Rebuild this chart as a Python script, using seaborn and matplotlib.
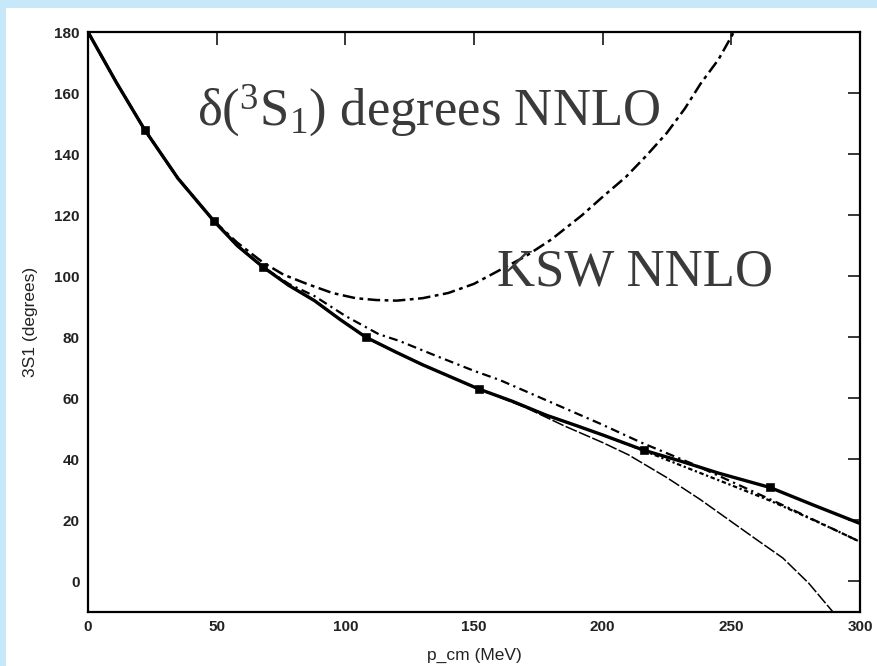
import matplotlib
matplotlib.use("Agg")
import matplotlib.pyplot as plt
import seaborn as sns
import pandas as pd
from matplotlib.patches import Rectangle

# ---- data ----
pwa_x = [0, 11, 22, 35, 49, 58, 68, 78, 88, 98, 108, 120, 130, 141, 152, 165, 178, 190, 200, 216, 230, 245, 265, 282, 300]
pwa_y = [180, 163.5, 148, 132, 118, 110, 103, 97, 92, 85.8, 80, 75, 71, 67, 63, 59, 54.5, 51, 48, 43, 39.5, 35.5, 30.8, 25, 19]

data_x = [22, 49, 68, 108, 152, 216, 265]
data_y = [148, 118, 103, 80, 63, 43, 31]

ksw_x = [0, 11, 22, 35, 49, 58, 68, 76, 85, 95, 104, 112, 120, 130, 140, 150, 160, 170, 180, 192, 200, 209, 217, 225, 232, 238, 245, 251]
ksw_y = [180, 163.5, 148, 132, 118, 111, 104.5, 100.5, 97.5, 94.5, 92.8, 92.2, 92, 92.8, 94.5, 97.5, 102, 106.5, 112, 120, 126, 132.5, 139.5, 147, 155, 163, 171, 180]

dd_x = [0, 11, 22, 35, 49, 58, 68, 78, 88, 100, 113, 121, 135, 150, 160, 175, 199, 215, 235, 255, 270, 285, 300]
dd_y = [180, 163.5, 148, 132, 118, 110, 103, 97.5, 93.5, 87, 81, 78.8, 74, 69, 66, 60.5, 51.7, 45.5, 38.5, 30.8, 25, 19, 13]

dot_x = [0, 11, 22, 35, 49, 58, 68, 78, 88, 98, 108, 120, 130, 141, 152, 165, 178, 190, 200, 217, 235, 251, 265, 277, 290, 300]
dot_y = [180, 163.5, 148, 132, 118, 110, 103, 97, 92, 85.8, 80, 75, 71, 67, 63, 59, 54.5, 51, 48, 42.5, 36.5, 31.2, 26.5, 22, 17, 13]

thin_x = [0, 11, 22, 35, 49, 58, 68, 78, 88, 98, 108, 120, 130, 141, 152, 170, 185, 200, 210, 225, 238, 250, 260, 270, 280, 289.5]
thin_y = [180, 163.5, 148, 132, 118, 110, 103, 97, 92, 85.8, 80, 75, 71, 67, 63, 57, 51, 45.5, 41.5, 34, 26.8, 19.6, 13.6, 7.7, -0.5, -10]

x_ticks = [0, 50, 100, 150, 200, 250, 300]
y_ticks = [0, 20, 40, 60, 80, 100, 120, 140, 160, 180]

title_text = "δ($^{3}$S$_{1}$) degrees NNLO"
ksw_text = "KSW NNLO"
x_label = "p_cm (MeV)"
y_label = "3S1 (degrees)"

# ---- style ----
sns.set_style("white")
plt.rcParams["font.family"] = ["Liberation Sans", "DejaVu Sans"]
plt.rcParams["mathtext.fontset"] = "custom"
plt.rcParams["mathtext.rm"] = "Liberation Serif"
plt.rcParams["mathtext.it"] = "Liberation Serif:italic"
plt.rcParams["mathtext.bf"] = "Liberation Serif:bold"

W, H = 877, 666
fig = plt.figure(figsize=(W / 100, H / 100), dpi=100, facecolor="#c6e8f8")
fig.patches.append(Rectangle((6 / W, 0), 1 - 6 / W, 1 - 8 / H, transform=fig.transFigure,
                             facecolor="white", edgecolor="none", zorder=-10))
ax = fig.add_axes([88 / W, 1 - 612 / H, (860 - 88) / W, (612 - 32) / H])
ax.set_zorder(1)
ax.set_facecolor("white")

def draw(xs, ys, **kw):
    df = pd.DataFrame({"x": xs, "y": ys})
    sns.lineplot(data=df, x="x", y="y", ax=ax, estimator=None, sort=False,
                 color="black", **kw)

draw(thin_x, thin_y, linewidth=1.1, linestyle=(0, (8, 1.5)))
draw(dot_x, dot_y, linewidth=1.6, linestyle=(0, (2, 1.2, 1, 1.2)))
draw(dd_x, dd_y, linewidth=1.6, linestyle=(0, (4, 2, 1, 2)))
draw(ksw_x, ksw_y, linewidth=1.8, linestyle=(0, (5, 1.8, 1.5, 1.8)))
draw(pwa_x, pwa_y, linewidth=2.4, linestyle="-")
sns.scatterplot(x=data_x, y=data_y, ax=ax, marker="s", s=32, color="black",
                edgecolor="black", zorder=5)

ax.set_xlim(0, 300)
ax.set_ylim(-10, 180)
ax.set_xticks(x_ticks)
ax.set_yticks(y_ticks)
ax.tick_params(direction="in", length=9, width=1.3, top=True, right=True,
               labelsize=11, labelcolor="#222222", pad=6)
for lab in ax.get_xticklabels() + ax.get_yticklabels():
    lab.set_fontweight("bold")
for s in ax.spines.values():
    s.set_visible(True)
    s.set_color("black")
    s.set_linewidth(1.6)

ax.set_xlabel(x_label, fontsize=12.5, color="#222222", labelpad=10)
ax.set_ylabel(y_label, fontsize=12.5, color="#222222", labelpad=12)

ax.text(42.4, 149.5, title_text, fontsize=38, family="Liberation Serif",
        color="#3a3a3a", ha="left", va="baseline")
ax.text(159, 97, ksw_text, fontsize=38, family="Liberation Serif",
        color="#3a3a3a", ha="left", va="baseline")

fig.savefig("out.png", dpi=100, facecolor=fig.get_facecolor())
